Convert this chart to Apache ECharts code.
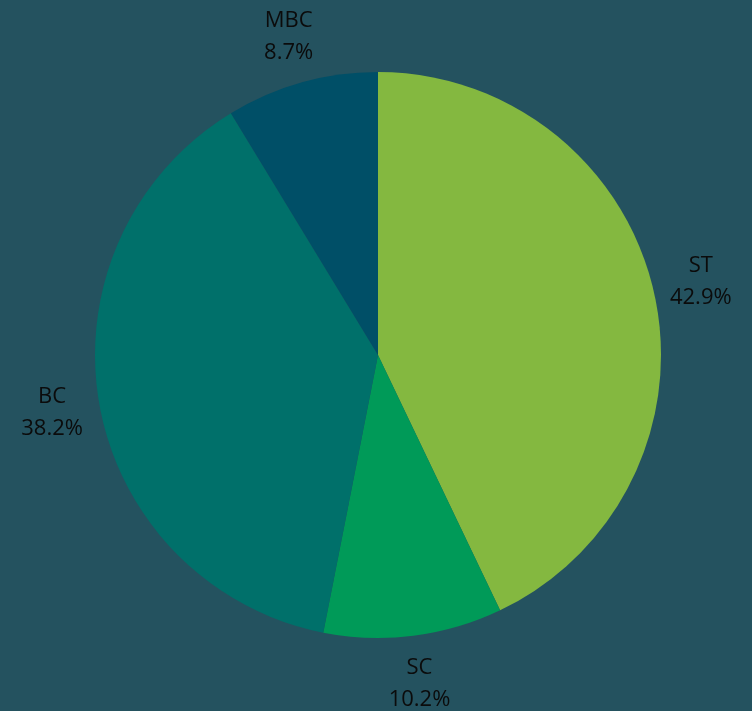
<!DOCTYPE html>
<html>
<head>
<meta charset="utf-8">
<script src="https://cdn.jsdelivr.net/npm/echarts@6/dist/echarts.min.js"></script>
<style>
  html, body { margin: 0; padding: 0; background: #24525f; }
  #chart { width: 752px; height: 711px; }
</style>
</head>
<body>
<div id="chart"></div>
<script>
const categories = ["ST", "SC", "BC", "MBC"];
const shares = [42.9, 10.2, 38.2, 8.7];
const colors = ["#84b840", "#009a58", "#00706a", "#004f67"];

const chart = echarts.init(document.getElementById("chart"));

const pieData = categories.map((name, i) => ({
  name,
  value: shares[i],
  itemStyle: { color: colors[i] },
}));

// second, invisible ring only carries the labels around the pie
const labelData = categories.map((name, i) => ({ name, value: shares[i] }));

const option = {
  backgroundColor: "#24525f",
  animation: false,
  series: [
    {
      type: "pie",
      center: [378, 355],
      radius: [0, 283],
      startAngle: 90,
      clockwise: true,
      data: pieData,
      label: { show: false },
      labelLine: { show: false },
      itemStyle: { borderWidth: 0 },
      silent: true,
    },
    {
      type: "pie",
      center: [378, 355],
      radius: [297, 359],
      startAngle: 90,
      clockwise: true,
      data: labelData,
      silent: true,
      itemStyle: { color: "rgba(0,0,0,0)", borderWidth: 0 },
      label: {
        show: true,
        position: "inside",
        formatter: (p) => p.name + "\n" + p.value + "%",
        color: "#0b0b0b",
        fontSize: 22,
        lineHeight: 32,
        fontFamily: "'Open Sans', 'Noto Sans', sans-serif",
        align: "center",
      },
      labelLine: { show: false },
    },
  ],
};

chart.setOption(option);
window.addEventListener("resize", () => chart.resize());
</script>
</body>
</html>
